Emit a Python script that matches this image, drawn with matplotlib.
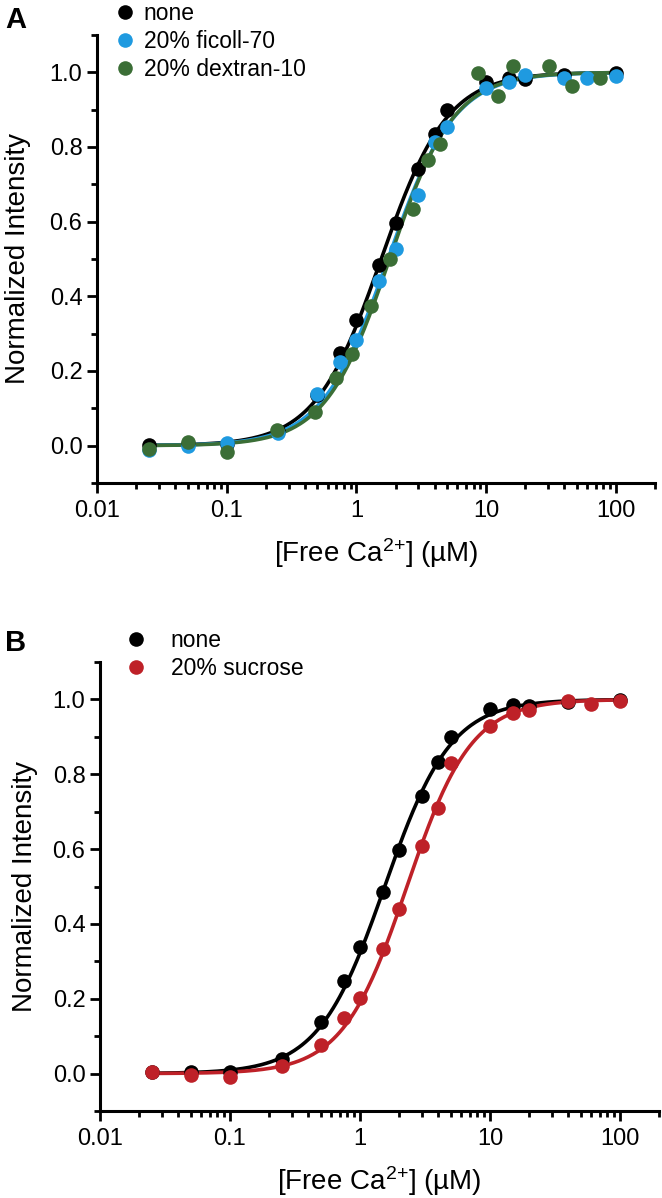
import matplotlib
matplotlib.use("Agg")
import matplotlib.pyplot as plt
from matplotlib.ticker import MultipleLocator, LogLocator, NullFormatter, FixedLocator, FixedFormatter
import numpy as np

plt.rcParams['font.family'] = ['Liberation Sans', 'DejaVu Sans']
plt.rcParams['mathtext.default'] = 'regular'

# free Ca2+ (uM) and normalized intensity
ca_std = [0.025, 0.05, 0.1, 0.25, 0.5, 0.75, 1, 1.5, 2, 3, 4, 5, 10, 15, 20, 40, 100]
none_y = [0.003, 0.005, 0.005, 0.04, 0.137, 0.247, 0.337, 0.484, 0.597, 0.742, 0.834, 0.90, 0.975, 0.984, 0.982, 0.993, 0.998]

ca_ficoll = [0.025, 0.05, 0.1, 0.25, 0.5, 0.75, 1, 1.5, 2, 3, 4, 5, 10, 15, 20, 40, 60, 100]
ficoll_y = [-0.012, 0.0, 0.006, 0.033, 0.138, 0.224, 0.282, 0.44, 0.528, 0.672, 0.813, 0.853, 0.958, 0.974, 0.992, 0.984, 0.986, 0.989]

ca_dextran = [0.025, 0.05, 0.1, 0.245, 0.48, 0.70, 0.93, 1.30, 1.81, 2.71, 3.54, 4.43, 8.6, 12.4, 16.2, 30.6, 45.5, 75.7]
dextran_y = [-0.008, 0.01, -0.017, 0.043, 0.089, 0.18, 0.245, 0.373, 0.499, 0.635, 0.764, 0.809, 0.997, 0.936, 1.016, 1.017, 0.963, 0.985]

ca_sucrose = [0.025, 0.05, 0.1, 0.25, 0.5, 0.75, 1, 1.5, 2, 3, 4, 5, 10, 15, 20, 40, 60, 100]
sucrose_y = [0.004, -0.004, -0.008, 0.02, 0.077, 0.148, 0.203, 0.333, 0.439, 0.608, 0.711, 0.829, 0.928, 0.964, 0.972, 0.997, 0.987, 0.995]

# Hill fit parameters (Kd in uM, n)
fit_none = (1.55, 1.7)
fit_ficoll = (1.75, 1.7)
fit_dextran = (1.8, 1.75)
fit_sucrose = (2.3, 1.75)

black = "#000000"
blue = "#1f9ae0"
green = "#3b6e36"
red = "#be2128"


def hill(x, kd, n):
    return x**n / (kd**n + x**n)


def style_axes(ax):
    ax.set_xscale("log")
    ax.set_xlim(0.01, 200)
    ax.set_ylim(-0.1, 1.1)
    for side in ("top", "right"):
        ax.spines[side].set_visible(False)
    for side in ("left", "bottom"):
        ax.spines[side].set_linewidth(2.2)
    ax.xaxis.set_major_locator(FixedLocator([0.01, 0.1, 1, 10, 100]))
    ax.xaxis.set_major_formatter(FixedFormatter(["0.01", "0.1", "1", "10", "100"]))
    ax.xaxis.set_minor_locator(LogLocator(base=10, subs=np.arange(2, 10)))
    ax.xaxis.set_minor_formatter(NullFormatter())
    ax.yaxis.set_major_locator(FixedLocator([0, 0.2, 0.4, 0.6, 0.8, 1.0]))
    ax.yaxis.set_major_formatter(FixedFormatter(["0.0", "0.2", "0.4", "0.6", "0.8", "1.0"]))
    ax.yaxis.set_minor_locator(MultipleLocator(0.1))
    ax.tick_params(which="major", direction="out", length=7.5, width=2, labelsize=17)
    ax.tick_params(which="minor", direction="out", length=4, width=2)
    ax.tick_params(axis="x", which="major", pad=5)
    ax.tick_params(axis="y", which="major", pad=3)
    ax.set_xlabel("[Free Ca$^{2{+}}$] (\u00b5M)", fontsize=20, labelpad=10)
    ax.set_ylabel("Normalized Intensity", fontsize=20)


def draw(ax, series):
    xs = np.logspace(np.log10(0.025), 2, 300)
    for x, y, fit, col, lab in series:
        ax.plot(xs, hill(xs, *fit), color=col, lw=2.6, zorder=2)
    for x, y, fit, col, lab in series:
        ax.plot(x, y, "o", color=col, ms=10.5, mec="none", zorder=3, label=lab)


W, H = 662, 1198
fig = plt.figure(figsize=(W / 100, H / 100), dpi=100)

axA = fig.add_axes([97 / W, 1 - 483 / H, (655 - 97) / W, (483 - 35) / H])
axB = fig.add_axes([100 / W, 1 - 1111 / H, (659 - 100) / W, (1111 - 662) / H])

draw(axA, [
    (ca_std, none_y, fit_none, black, "none"),
    (ca_ficoll, ficoll_y, fit_ficoll, blue, "20% ficoll-70"),
    (ca_dextran, dextran_y, fit_dextran, green, "20% dextran-10"),
])
draw(axB, [
    (ca_std, none_y, fit_none, black, "none"),
    (ca_sucrose, sucrose_y, fit_sucrose, red, "20% sucrose"),
])

for ax in (axA, axB):
    style_axes(ax)
axA.yaxis.set_label_coords((31 - 97) / 558, 0.5)
axB.yaxis.set_label_coords((38 - 100) / 559, 0.5)

axA.legend(loc="upper left", bbox_to_anchor=(114 / W, 1 - 2 / H), bbox_transform=fig.transFigure,
           frameon=False, fontsize=16.5, handlelength=1.0, handletextpad=0.3,
           labelspacing=0.22, borderpad=0, borderaxespad=0, numpoints=1)
axB.legend(loc="upper left", bbox_to_anchor=(125 / W, 1 - 629 / H), bbox_transform=fig.transFigure,
           frameon=False, fontsize=16.5, handlelength=1.0, handletextpad=1.0,
           labelspacing=0.22, borderpad=0, borderaxespad=0, numpoints=1)

fig.text(5 / W, 1 - 28 / H, "A", fontsize=21, fontweight="bold")
fig.text(5 / W, 1 - 651 / H, "B", fontsize=21, fontweight="bold")

fig.savefig("out.png", dpi=100)
